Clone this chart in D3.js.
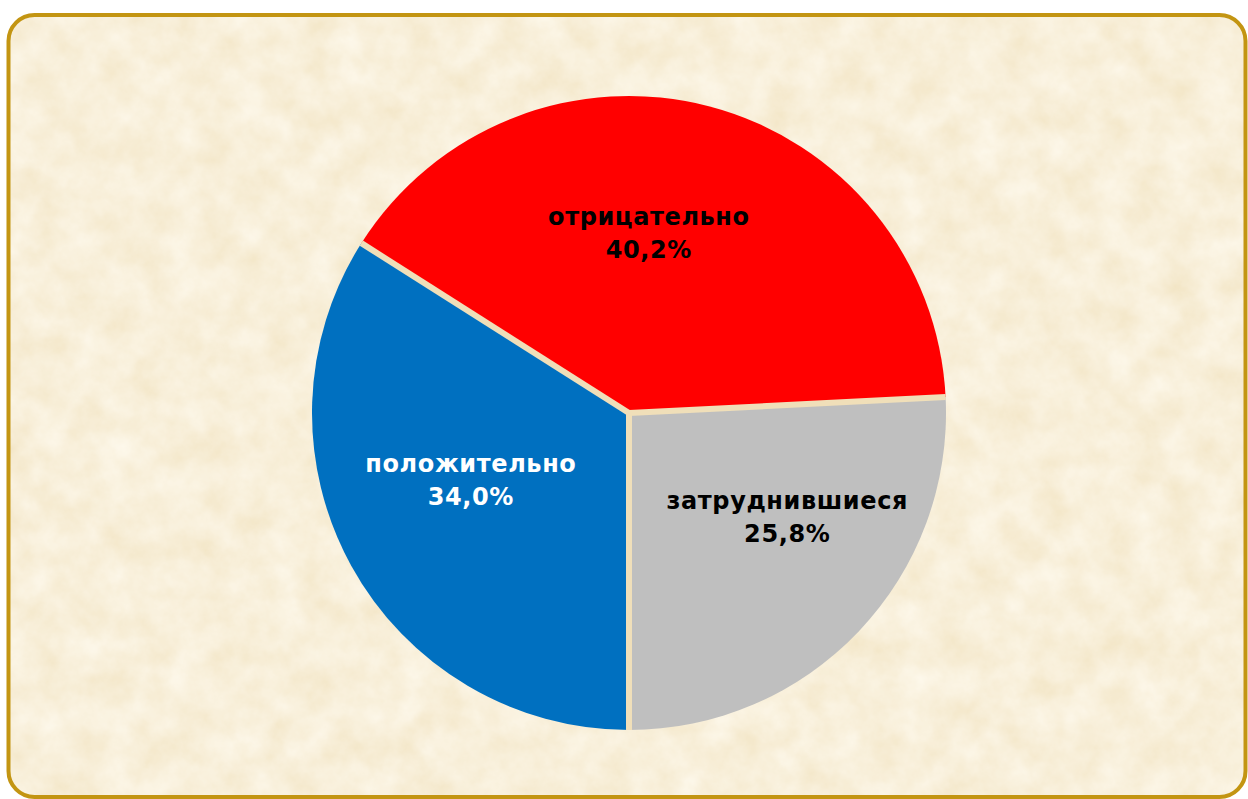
<!DOCTYPE html>
<html>
<head>
<meta charset="utf-8">
<script src="https://cdn.jsdelivr.net/npm/d3@7"></script>
<style>
  html, body { margin: 0; padding: 0; background: #fff; }
  svg { display: block; }
</style>
</head>
<body>
<div id="chart"></div>
<script>
// data
const categories = ["положительно", "отрицательно", "затруднившиеся"];
const shares = [34.0, 40.2, 25.8];
const sliceColors = ["#0070c0", "#ff0000", "#bfbfbf"];
const labelColors = ["#ffffff", "#000000", "#000000"];

const width = 1248;
const height = 799;
const cx = 629, cy = 413, radius = 317;

const svg = d3.select("#chart")
  .append("svg")
  .attr("width", width)
  .attr("height", height);

// parchment texture
const defs = svg.append("defs");
const f = defs.append("filter")
  .attr("id", "paper")
  .attr("x", 0).attr("y", 0)
  .attr("width", "100%").attr("height", "100%");
f.append("feTurbulence")
  .attr("type", "fractalNoise")
  .attr("baseFrequency", 0.03)
  .attr("numOctaves", 5)
  .attr("seed", 7);
f.append("feColorMatrix")
  .attr("type", "matrix")
  .attr("values", [
    "0.10 0 0 0 0.89",
    "0.17 0 0 0 0.78",
    "0.30 0 0 0 0.55",
    "0 0 0 0 1"
  ].join(" "));

const clip = defs.append("clipPath").attr("id", "frame");
clip.append("rect")
  .attr("x", 8.5).attr("y", 15)
  .attr("width", 1237).attr("height", 782)
  .attr("rx", 26).attr("ry", 26);

svg.append("rect")
  .attr("x", 8.5).attr("y", 15)
  .attr("width", 1237).attr("height", 782)
  .attr("clip-path", "url(#frame)")
  .attr("filter", "url(#paper)")
  .attr("fill", "#f0ddb3");

svg.append("rect")
  .attr("x", 8.5).attr("y", 15)
  .attr("width", 1237).attr("height", 782)
  .attr("rx", 26).attr("ry", 26)
  .attr("fill", "none")
  .attr("stroke", "#c39512")
  .attr("stroke-width", 4);

const data = categories.map((c, i) => ({ name: c, value: shares[i], i }));

const pie = d3.pie()
  .sort(null)
  .value(d => d.value)
  .startAngle(Math.PI)
  .endAngle(3 * Math.PI);

const arc = d3.arc().innerRadius(0).outerRadius(radius);
const labelArc = d3.arc().innerRadius(radius * 0.58).outerRadius(radius * 0.58);

const g = svg.append("g")
  .attr("transform", `translate(${cx}, ${cy})`);

const arcs = pie(data);

g.selectAll("path")
  .data(arcs)
  .enter()
  .append("path")
  .attr("d", arc)
  .attr("fill", d => sliceColors[d.data.i]);

// light gaps between the slices
g.selectAll("line.sep")
  .data(arcs)
  .enter()
  .append("line")
  .attr("class", "sep")
  .attr("x1", 0)
  .attr("y1", 0)
  .attr("x2", d => radius * Math.sin(d.startAngle))
  .attr("y2", d => -radius * Math.cos(d.startAngle))
  .attr("stroke", "#f0dfb9")
  .attr("stroke-width", 6);

// small nudges so the labels sit where the original placed them
const nudge = [[3, -14], [-27, 6], [25, -15]];

const fmt = v => v.toFixed(1).replace(".", ",") + "%";

const labels = g.selectAll("text.lbl")
  .data(arcs)
  .enter()
  .append("text")
  .attr("class", "lbl")
  .attr("transform", d => {
    const [x, y] = labelArc.centroid(d);
    const [nx, ny] = nudge[d.data.i];
    return `translate(${x + nx}, ${y + ny})`;
  })
  .attr("text-anchor", "middle")
  .style("font-family", "'DejaVu Sans', Verdana, sans-serif")
  .style("font-weight", "bold")
  .style("font-size", "24px")
  .style("letter-spacing", "0.6px")
  .attr("fill", d => labelColors[d.data.i]);

labels.append("tspan")
  .attr("x", 0)
  .attr("y", -16)
  .text(d => d.data.name);

labels.append("tspan")
  .attr("x", 0)
  .attr("y", 17)
  .text(d => fmt(d.data.value));
</script>
</body>
</html>
